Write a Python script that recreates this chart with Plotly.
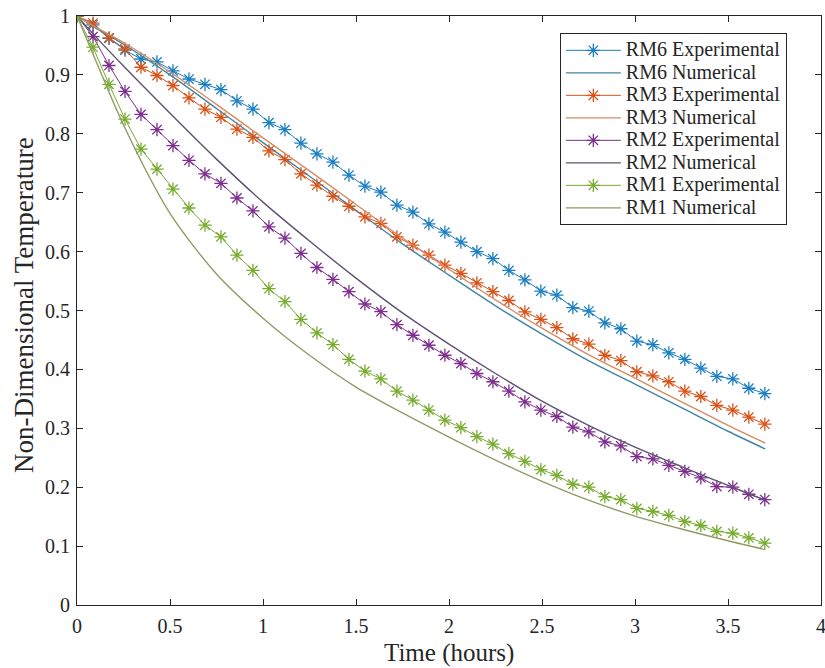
import plotly.graph_objects as go

# ---- data ----
time_exp = [0, 0.086, 0.172, 0.258, 0.344, 0.43, 0.516, 0.602, 0.688, 0.774, 0.86,
            0.946, 1.032, 1.118, 1.204, 1.29, 1.376, 1.462, 1.548, 1.634, 1.72, 1.806,
            1.892, 1.978, 2.064, 2.15, 2.236, 2.322, 2.408, 2.494, 2.58, 2.666, 2.752,
            2.838, 2.924, 3.01, 3.096, 3.182, 3.268, 3.354, 3.44, 3.526, 3.612, 3.698]

rm6_exp = [1.0, 0.985, 0.962, 0.942, 0.927, 0.922, 0.907, 0.893, 0.884, 0.875, 0.856,
           0.842, 0.819, 0.807, 0.784, 0.766, 0.752, 0.730, 0.711, 0.701, 0.679, 0.667,
           0.647, 0.633, 0.616, 0.600, 0.588, 0.568, 0.552, 0.533, 0.526, 0.505, 0.499,
           0.479, 0.469, 0.448, 0.442, 0.428, 0.417, 0.402, 0.388, 0.384, 0.368, 0.359]

rm3_exp = [1.0, 0.988, 0.963, 0.944, 0.913, 0.899, 0.882, 0.861, 0.842, 0.828, 0.808,
           0.794, 0.771, 0.756, 0.732, 0.713, 0.694, 0.677, 0.659, 0.648, 0.625, 0.611,
           0.594, 0.577, 0.563, 0.547, 0.532, 0.517, 0.4975, 0.485, 0.471, 0.452, 0.443,
           0.424, 0.415, 0.396, 0.389, 0.379, 0.363, 0.354, 0.339, 0.331, 0.319, 0.307]

rm2_exp = [1.0, 0.965, 0.916, 0.872, 0.833, 0.807, 0.780, 0.755, 0.732, 0.716, 0.691,
           0.669, 0.642, 0.623, 0.597, 0.573, 0.553, 0.532, 0.511, 0.498, 0.476, 0.458,
           0.441, 0.424, 0.410, 0.393, 0.379, 0.363, 0.345, 0.331, 0.320, 0.302, 0.294,
           0.277, 0.270, 0.252, 0.248, 0.237, 0.227, 0.216, 0.201, 0.200, 0.188, 0.179]

rm1_exp = [1.0, 0.947, 0.884, 0.825, 0.774, 0.740, 0.706, 0.674, 0.645, 0.625, 0.594,
           0.568, 0.537, 0.515, 0.485, 0.462, 0.442, 0.417, 0.397, 0.384, 0.363, 0.348,
           0.331, 0.314, 0.301, 0.286, 0.273, 0.257, 0.244, 0.230, 0.220, 0.205, 0.200,
           0.184, 0.179, 0.164, 0.159, 0.152, 0.142, 0.135, 0.125, 0.122, 0.114, 0.105]

time_num = [0, 0.1, 0.25, 0.5, 0.75, 1.0, 1.25, 1.5, 1.75, 2.0, 2.25, 2.5, 2.75, 3.0,
            3.25, 3.5, 3.7]
rm6_num = [1.0, 0.980, 0.952, 0.900, 0.843, 0.785, 0.728, 0.670, 0.613, 0.560, 0.508,
           0.460, 0.415, 0.375, 0.335, 0.295, 0.265]
rm3_num = [1.0, 0.981, 0.955, 0.905, 0.850, 0.793, 0.737, 0.680, 0.623, 0.570, 0.518,
           0.470, 0.425, 0.385, 0.345, 0.305, 0.275]
rm2_num = [1.0, 0.965, 0.915, 0.835, 0.757, 0.684, 0.618, 0.555, 0.496, 0.443, 0.393,
           0.346, 0.305, 0.268, 0.235, 0.203, 0.178]
rm1_num = [1.0, 0.925, 0.815, 0.665, 0.562, 0.487, 0.424, 0.370, 0.326, 0.285, 0.246,
           0.210, 0.178, 0.151, 0.129, 0.109, 0.094]

x_ticks = [0, 0.5, 1, 1.5, 2, 2.5, 3, 3.5, 4]
x_tick_text = ["0", "0.5", "1", "1.5", "2", "2.5", "3", "3.5", "4"]
y_ticks = [0, 0.1, 0.2, 0.3, 0.4, 0.5, 0.6, 0.7, 0.8, 0.9, 1]
y_tick_text = ["0", "0.1", "0.2", "0.3", "0.4", "0.5", "0.6", "0.7", "0.8", "0.9", "1"]

x_title = "Time (hours)"
y_title = "Non-Dimensional Temperature"

series = [
    ("RM6", rm6_exp, rm6_num, "#1a7fc0", "#3f86a3"),
    ("RM3", rm3_exp, rm3_num, "#d95319", "#d98a62"),
    ("RM2", rm2_exp, rm2_num, "#7e2f8e", "#5e5274"),
    ("RM1", rm1_exp, rm1_num, "#77ac30", "#8f9c66"),
]

FONT = "Liberation Serif, Times New Roman, serif"
AX = "#262626"


def legend_label(s):
    return f'<span style="font-size:20px">{s}</span>'


fig = go.Figure()
for name, yexp, ynum, cexp, cnum in series:
    fig.add_trace(go.Scatter(
        x=time_exp, y=yexp, mode="lines+markers",
        name=legend_label(f"{name} Experimental"),
        line=dict(color=cexp, width=1),
        marker=dict(symbol="asterisk-open", size=11, color=cexp,
                    line=dict(color=cexp, width=1.3)),
    ))
    fig.add_trace(go.Scatter(
        x=time_num, y=ynum, mode="lines",
        name=legend_label(f"{name} Numerical"),
        line=dict(color=cnum, width=1.4, shape="spline", smoothing=0.8),
    ))

axis_common = dict(
    showline=True, linecolor=AX, linewidth=1, mirror="ticks",
    ticks="inside", ticklen=6, tickcolor=AX, tickwidth=1,
    showgrid=False, zeroline=False, automargin=False,
    ticklabeloverflow="allow",
    tickfont=dict(family=FONT, size=20, color=AX),
)

fig.update_xaxes(range=[0, 4], tickvals=x_ticks, ticktext=x_tick_text,
                 ticklabelstandoff=3, **axis_common)
fig.update_yaxes(range=[0, 1], tickvals=y_ticks, ticktext=y_tick_text,
                 ticklabelstandoff=2, **axis_common)

fig.add_annotation(text=x_title, xref="paper", yref="paper", x=0.5, y=-0.081,
                   xanchor="center", yanchor="middle", showarrow=False,
                   font=dict(family=FONT, size=25, color=AX))
fig.add_annotation(text=y_title, xref="paper", yref="paper", x=-0.072, y=0.51,
                   xanchor="center", yanchor="middle", showarrow=False, textangle=-90,
                   font=dict(family=FONT, size=27, color=AX))

fig.update_layout(
    width=825, height=668,
    margin=dict(l=77, r=4, t=16, b=63),
    paper_bgcolor="white", plot_bgcolor="white",
    font=dict(family=FONT, color=AX),
    legend=dict(
        x=0.649, y=0.971, xanchor="left", yanchor="top",
        bgcolor="white", bordercolor=AX, borderwidth=1,
        font=dict(family=FONT, size=15, color=AX),
        itemwidth=55, tracegroupgap=0,
    ),
    showlegend=True,
)

fig.write_html("out.html",
               config={"displayModeBar": False},
               post_script="document.body.style.margin='0';document.body.style.overflow='hidden';")
